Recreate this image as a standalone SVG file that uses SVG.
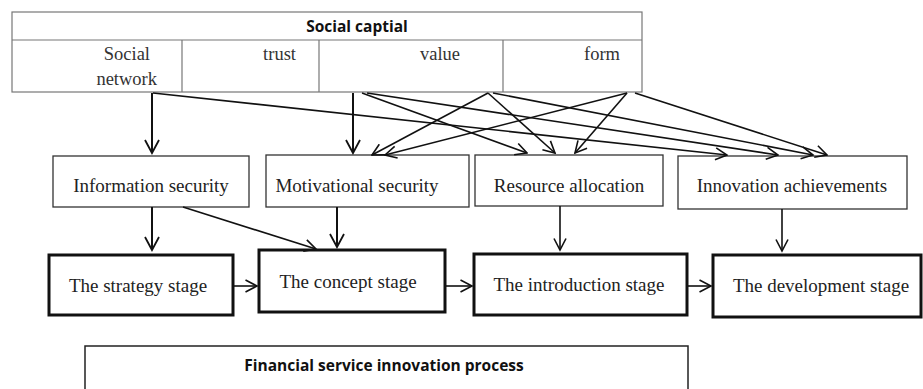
<svg xmlns="http://www.w3.org/2000/svg" width="923" height="389" viewBox="0 0 923 389">
<defs>
<style>
.tbl{fill:#fff;stroke:#777;stroke-width:1.2}
.cell{font-family:"Liberation Serif",serif;font-size:18.5px;fill:#333}
.hdr{font-family:"Open Sans","Liberation Sans",sans-serif;font-weight:bold;font-size:15.5px;fill:#111}
.box1{fill:#fff;stroke:#333;stroke-width:1.3}
.box2{fill:#fff;stroke:#111;stroke-width:3}
.lbl{font-family:"Liberation Serif",serif;font-size:19px;fill:#222;text-anchor:middle}
.con{stroke:#111;stroke-width:1.6;fill:none;marker-end:url(#ah)}
.conb{stroke:#111;stroke-width:2;fill:none;marker-end:url(#ahb)}
</style>
<marker id="ah" viewBox="0 0 14 14" refX="12.5" refY="7" markerWidth="14" markerHeight="14" orient="auto" markerUnits="userSpaceOnUse">
<path d="M1,1 L12.5,7 L1,13" fill="none" stroke="#111" stroke-width="1.6"/>
</marker>
<marker id="ahb" viewBox="0 0 16 16" refX="14" refY="8" markerWidth="16" markerHeight="16" orient="auto" markerUnits="userSpaceOnUse">
<path d="M1,1 L14,8 L1,15" fill="none" stroke="#111" stroke-width="1.8"/>
</marker>
</defs>
<rect width="923" height="389" fill="#fff"/>

<g id="social-capital">
<rect class="tbl" x="12" y="12" width="630" height="80"/>
<line class="tbl" x1="12" y1="40" x2="642" y2="40"/>
<line class="tbl" x1="182" y1="40" x2="182" y2="92"/>
<line class="tbl" x1="319" y1="40" x2="319" y2="92"/>
<line class="tbl" x1="503" y1="40" x2="503" y2="92"/>
<text class="hdr" x="357" y="32" text-anchor="middle">Social captial</text>
<text class="cell" x="150" y="60" text-anchor="end">Social</text>
<text class="cell" x="157" y="85" text-anchor="end">network</text>
<text class="cell" x="296" y="60" text-anchor="end">trust</text>
<text class="cell" x="460" y="60" text-anchor="end">value</text>
<text class="cell" x="620" y="60" text-anchor="end">form</text>
</g>

<g id="information-security">
<rect class="box1" x="53" y="156" width="196" height="51"/>
<text class="lbl" x="151" y="192">Information security</text>
</g>
<g id="motivational-security">
<rect class="box1" x="266" y="155" width="203" height="52"/>
<text class="lbl" x="357" y="192">Motivational security</text>
</g>
<g id="resource-allocation">
<rect class="box1" x="475" y="155" width="188" height="51"/>
<text class="lbl" x="569" y="192">Resource allocation</text>
</g>
<g id="innovation-achievements">
<rect class="box1" x="678" y="156" width="229" height="53"/>
<text class="lbl" x="792" y="192">Innovation achievements</text>
</g>

<g id="strategy-stage">
<rect class="box2" x="49" y="255" width="184" height="60"/>
<text class="lbl" x="138" y="292">The strategy stage</text>
</g>
<g id="concept-stage">
<rect class="box2" x="259" y="250" width="186" height="62"/>
<text class="lbl" x="348" y="288">The concept stage</text>
</g>
<g id="introduction-stage">
<rect class="box2" x="474" y="254" width="213" height="61"/>
<text class="lbl" x="579" y="291">The introduction stage</text>
</g>
<g id="development-stage">
<rect class="box2" x="713" y="255" width="208" height="62"/>
<text class="lbl" x="821" y="292">The development stage</text>
</g>

<g id="financial-process">
<rect x="85" y="346" width="603" height="60" fill="#fff" stroke="#222" stroke-width="1.5"/>
<text class="hdr" x="384" y="371" text-anchor="middle" font-size="14" font-weight="600">Financial service innovation process</text>
</g>

<g id="connectors">
<line class="conb" x1="152" y1="93" x2="152" y2="153"/>
<line class="con" x1="153" y1="93" x2="727" y2="155"/>
<line class="conb" x1="353" y1="93" x2="353" y2="153"/>
<line class="con" x1="362" y1="93" x2="527" y2="153"/>
<line class="con" x1="367" y1="93" x2="778" y2="155"/>
<line class="con" x1="488" y1="93" x2="372" y2="155"/>
<line class="con" x1="488" y1="93" x2="555" y2="153"/>
<line class="con" x1="493" y1="93" x2="813" y2="155"/>
<line class="con" x1="627" y1="93" x2="385" y2="155"/>
<line class="con" x1="627" y1="93" x2="575" y2="153"/>
<line class="con" x1="635" y1="93" x2="827" y2="155"/>

<line class="conb" x1="152" y1="207" x2="152" y2="250"/>
<line class="con" x1="183" y1="207" x2="316" y2="249"/>
<line class="conb" x1="337" y1="207" x2="337" y2="247"/>
<line class="con" x1="560" y1="206" x2="560" y2="250"/>
<line class="con" x1="782" y1="209" x2="782" y2="251"/>

<line class="con" x1="234" y1="286" x2="257" y2="286"/>
<line class="con" x1="446" y1="286" x2="472" y2="286"/>
<line class="con" x1="688" y1="286" x2="711" y2="286"/>
</g>
</svg>
